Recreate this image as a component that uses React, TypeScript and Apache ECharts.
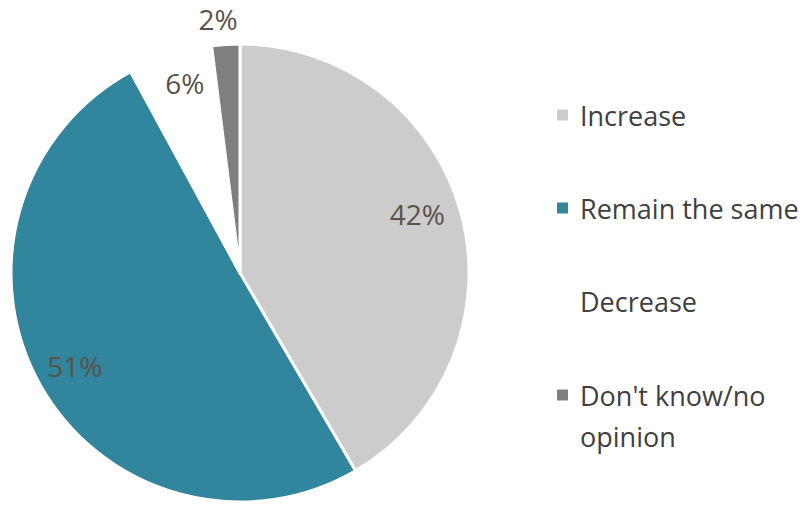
import React, { useEffect, useRef } from "react";
import * as echarts from "echarts";

const categories = ["Increase", "Remain the same", "Decrease", "Don't know/no opinion"];
const legendLabels = ["Increase", "Remain the same", "Decrease", "\nDon't know/no\nopinion"];
const values = [42, 51, 6, 2];
const colors = ["#cccccc", "#31859c", "#ffffff", "#7f7f7f"];
const legendCenters = [115, 208, 301, 395];
const labelOffsets = [[-9, -9], [3, -2], [4, -6], [-6, 3]];

export default function App() {
  const ref = useRef<HTMLDivElement>(null);
  useEffect(() => {
    if (!ref.current) return;
    const chart = echarts.init(ref.current, undefined, { renderer: "svg" });
    const font = "'Open Sans', sans-serif";
    const lh = 41;
    const data = categories.map((name, i) => ({ name, value: values[i], itemStyle: { color: colors[i] } }));
    const labelStyle = { color: "#5a5249", fontSize: 28, lineHeight: 28, fontFamily: font };
    const center = [240, 273];
    const legends = categories.map((name, i) => ({
      orient: "vertical",
      left: 555,
      top: legendCenters[i] - (i === 3 ? lh * 1.5 : lh / 2),
      padding: 0,
      itemWidth: 13,
      itemHeight: 13,
      icon: "rect",
      selectedMode: false,
      data: [name],
      formatter: () => legendLabels[i],
      textStyle: {
        color: "#404040",
        fontSize: 27,
        fontFamily: font,
        lineHeight: lh,
        padding: [0, 0, 0, 6],
      },
    }));
    chart.setOption({
      animation: false,
      backgroundColor: "#ffffff",
      legend: legends,
      series: [
        {
          type: "pie",
          center,
          radius: 229,
          startAngle: 90,
          clockwise: true,
          label: { show: false },
          labelLine: { show: false },
          itemStyle: { borderColor: "#ffffff", borderWidth: 3 },
          data,
        },
        {
          type: "pie",
          center,
          radius: [151, 229],
          startAngle: 90,
          silent: true,
          labelLine: { show: false },
          itemStyle: { color: "transparent", borderWidth: 0 },
          label: { show: true, position: "inside", formatter: "{c}%", ...labelStyle },
          data: categories.map((name, i) => ({
            name,
            value: values[i],
            itemStyle: { color: "transparent" },
            label: { show: i < 3, offset: labelOffsets[i] },
          })),
        },
        {
          type: "pie",
          center,
          radius: [229, 280],
          startAngle: 90,
          silent: true,
          labelLine: { show: false },
          itemStyle: { color: "transparent", borderWidth: 0 },
          label: { show: true, position: "inside", formatter: "{c}%", ...labelStyle },
          data: categories.map((name, i) => ({
            name,
            value: values[i],
            itemStyle: { color: "transparent" },
            label: { show: i === 3, offset: labelOffsets[i] },
          })),
        },
      ],
    });
    return () => chart.dispose();
  }, []);
  return <div ref={ref} style={{ position: "fixed", left: 0, top: 0, width: 803, height: 505 }} />;
}
